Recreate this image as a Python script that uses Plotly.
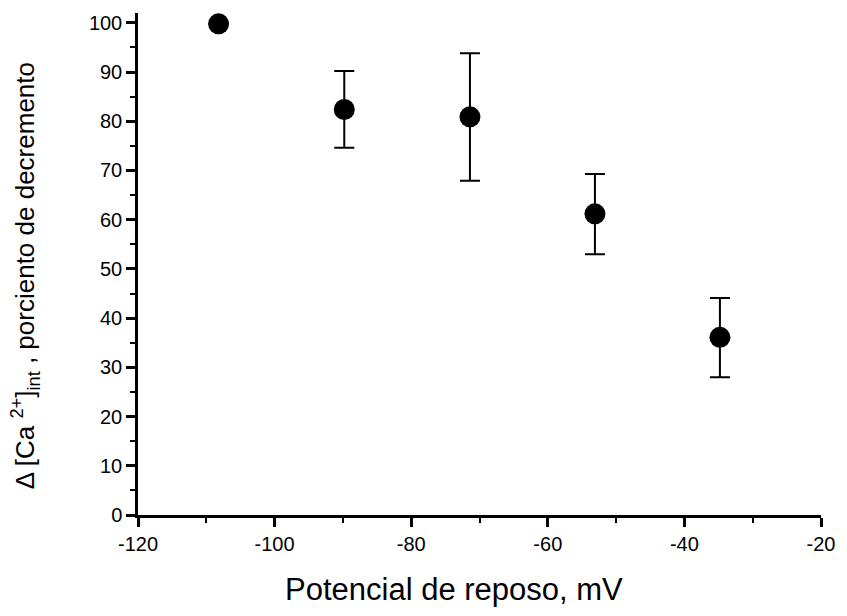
import plotly.graph_objects as go

# Data
potential_mv = [-108.2, -89.8, -71.4, -53.1, -34.8]
decrement_pct = [99.8, 82.4, 80.9, 61.2, 36.1]
err_plus = [0.0, 7.8, 12.9, 8.1, 8.0]
err_minus = [0.0, 7.8, 13.0, 8.2, 8.1]

x_ticks = [-120, -100, -80, -60, -40, -20]
y_ticks = [0, 10, 20, 30, 40, 50, 60, 70, 80, 90, 100]

FONT = "Liberation Sans, Arial, sans-serif"

fig = go.Figure()
fig.add_trace(go.Scatter(
    x=potential_mv,
    y=decrement_pct,
    mode="markers",
    marker=dict(color="black", size=21, symbol="circle"),
    error_y=dict(type="data", symmetric=False, array=err_plus, arrayminus=err_minus,
                 color="black", thickness=2, width=10, visible=True),
    showlegend=False,
    cliponaxis=False,
))

fig.update_layout(
    width=847, height=616,
    margin=dict(l=138, r=20, t=13, b=101),
    paper_bgcolor="white", plot_bgcolor="white",
    font=dict(family=FONT, color="black", size=20),
    xaxis=dict(
        range=[-120, -20], tickvals=x_ticks, ticktext=[str(v) for v in x_ticks],
        showline=True, linecolor="black", linewidth=2.5, mirror=False,
        ticks="outside", ticklen=9, tickwidth=2.5, tickcolor="black",
        minor=dict(ticks="outside", ticklen=5, tickwidth=2, tickcolor="black", dtick=10),
        showgrid=False, zeroline=False,
        tickfont=dict(size=20, family=FONT, color="black"),
    ),
    yaxis=dict(
        range=[0, 102], tickvals=y_ticks, ticktext=[str(v) for v in y_ticks],
        showline=True, linecolor="black", linewidth=2.5, mirror=False,
        ticks="outside", ticklen=9, tickwidth=2.5, tickcolor="black",
        minor=dict(ticks="outside", ticklen=5, tickwidth=2, tickcolor="black", dtick=5),
        showgrid=False, zeroline=False,
        tickfont=dict(size=20, family=FONT, color="black"),
    ),
    annotations=[
        dict(text="Potencial de reposo, mV", xref="paper", yref="paper",
             x=0.463, y=-0.149, xanchor="center", yanchor="middle", showarrow=False,
             font=dict(size=31, family=FONT, color="black")),
        dict(text="Δ [Ca <sup>2+</sup>]<sub>int</sub> , porciento de decremento",
             xref="paper", yref="paper", x=-0.165, y=0.476, xanchor="center", yanchor="middle",
             textangle=-90, showarrow=False,
             font=dict(size=26, family=FONT, color="black")),
    ],
)

fig.write_html("out.html")
